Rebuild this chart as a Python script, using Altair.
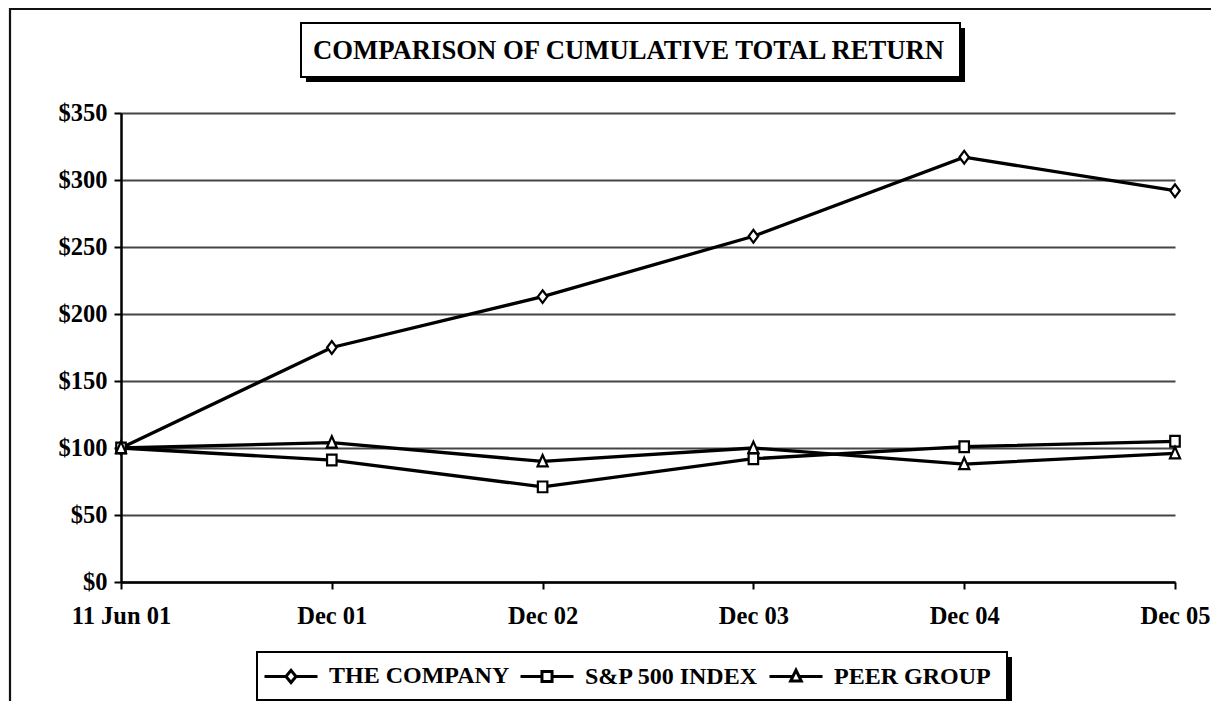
import altair as alt
import pandas as pd

# ---- data ----
periods = ["11 Jun 01", "Dec 01", "Dec 02", "Dec 03", "Dec 04", "Dec 05"]
series_names = ["THE COMPANY", "S&P 500 INDEX", "PEER GROUP"]
company = [100, 175, 213, 258, 317, 292]
sp500 = [100, 91, 71, 92, 101, 105]
peer = [100, 104, 90, 100, 88, 96]
y_ticks = [0, 50, 100, 150, 200, 250, 300, 350]
title_text = "COMPARISON OF CUMULATIVE TOTAL RETURN"

rows = []
for name, vals in zip(series_names, [company, sp500, peer]):
    for p, v in zip(periods, vals):
        rows.append({"period": p, "series": name, "value": v})
df = pd.DataFrame(rows)

FONT = "Liberation Serif"
W, H = 1054, 469

one = alt.Data(values=[{"k": 1}])

x = alt.X(
    "period:N",
    sort=periods,
    scale=alt.Scale(type="point", padding=0),
    axis=alt.Axis(
        title=None, labelAngle=0, grid=False,
        domainColor="black", domainWidth=2.5,
        tickColor="black", tickWidth=2, tickSize=7,
        labelFont=FONT, labelFontSize=24.5, labelFontWeight="bold",
        labelColor="black", labelPadding=15,
    ),
)
y = alt.Y(
    "value:Q",
    scale=alt.Scale(domain=[0, 350], nice=False, zero=True),
    axis=alt.Axis(
        title=None, values=y_ticks, labelExpr="'$' + datum.value",
        grid=True, gridColor="#444444", gridWidth=1.8,
        domainColor="black", domainWidth=2.5,
        tickColor="black", tickWidth=2, tickSize=7,
        labelFont=FONT, labelFontSize=24.5, labelFontWeight="bold",
        labelColor="black", labelPadding=7,
    ),
)

# outer frame (cut at right/bottom like the reference)
frame = alt.Chart(one).mark_rect(fill=None, stroke="#111111", strokeWidth=2.2).encode(
    x=alt.value(-111), x2=alt.value(1250), y=alt.value(-104), y2=alt.value(760)
)

# title box with shadow
title_shadow = alt.Chart(one).mark_rect(fill="black").encode(
    x=alt.value(185), x2=alt.value(844), y=alt.value(-85), y2=alt.value(-31)
)
title_box = alt.Chart(one).mark_rect(fill="white", stroke="black", strokeWidth=2).encode(
    x=alt.value(180), x2=alt.value(839), y=alt.value(-90), y2=alt.value(-36)
)
title = alt.Chart(one).mark_text(
    font=FONT, fontSize=26.7, fontWeight="bold", color="black",
    align="center", baseline="middle",
).encode(x=alt.value(507.5), y=alt.value(-62), text=alt.value(title_text))

# legend box with shadow
leg_shadow = alt.Chart(one).mark_rect(fill="black").encode(
    x=alt.value(141), x2=alt.value(891), y=alt.value(544), y2=alt.value(592)
)
leg_box = alt.Chart(one).mark_rect(fill="white", stroke="black", strokeWidth=2).encode(
    x=alt.value(136), x2=alt.value(886), y=alt.value(539), y2=alt.value(587)
)

lines = alt.Chart(df).mark_line(color="black", strokeWidth=3.3).encode(
    x=x, y=y, detail="series:N"
)

marker_paths = [
    "M-0.75,0L0,-1L0.75,0L0,1Z",
    "M-0.75,-0.85H0.75V0.85H-0.75Z",
    "M-0.8,0.8L0,-1L0.8,0.8Z",
]
points = alt.Chart(df).mark_point(
    filled=True, fill="white", stroke="black", strokeWidth=2.2, size=160, opacity=1
).encode(
    x=x, y=y,
    shape=alt.Shape("series:N", scale=alt.Scale(domain=series_names, range=marker_paths), legend=None),
)

legend_paths = [
    "M-1,0H-0.19M-0.19,0L0,-0.23L0.19,0L0,0.23ZM0.19,0H1",
    "M-1,0H-0.19M-0.19,-0.19H0.19V0.19H-0.19ZM0.19,0H1",
    "M-1,0H-0.12M-0.2,0.17L0,-0.24L0.2,0.17ZM0.12,0H1",
]
# legend-only layer: its own points have zero size, so only the legend shows
legend_layer = alt.Chart(df).mark_point(
    filled=False, stroke="black", color="black", strokeWidth=3, size=0
).encode(
    x=x, y=y,
    shape=alt.Shape(
        "series:N",
        scale=alt.Scale(domain=series_names, range=legend_paths),
        legend=alt.Legend(
            title=None, orient="none", legendX=142, legendY=535,
            direction="horizontal", symbolSize=2809,
            symbolStrokeWidth=3, symbolStrokeColor="black",
            symbolOpacity=1,
            labelFont=FONT, labelFontSize=24, labelFontWeight="bold",
            labelColor="black", labelOffset=10, columnPadding=4, padding=0,
            labelLimit=400,
        ),
    ),
)

chart = alt.layer(
    frame, title_shadow, title_box, title, leg_shadow, leg_box, lines, points, legend_layer
).resolve_scale(shape="independent").properties(
    width=W, height=H,
    padding={"left": 113, "top": 105, "right": 36, "bottom": 119},
    autosize=alt.AutoSizeParams(type="none"),
    background="white",
).configure_view(stroke=None)

chart.save("out.html", embed_options={"renderer": "svg", "actions": False})
